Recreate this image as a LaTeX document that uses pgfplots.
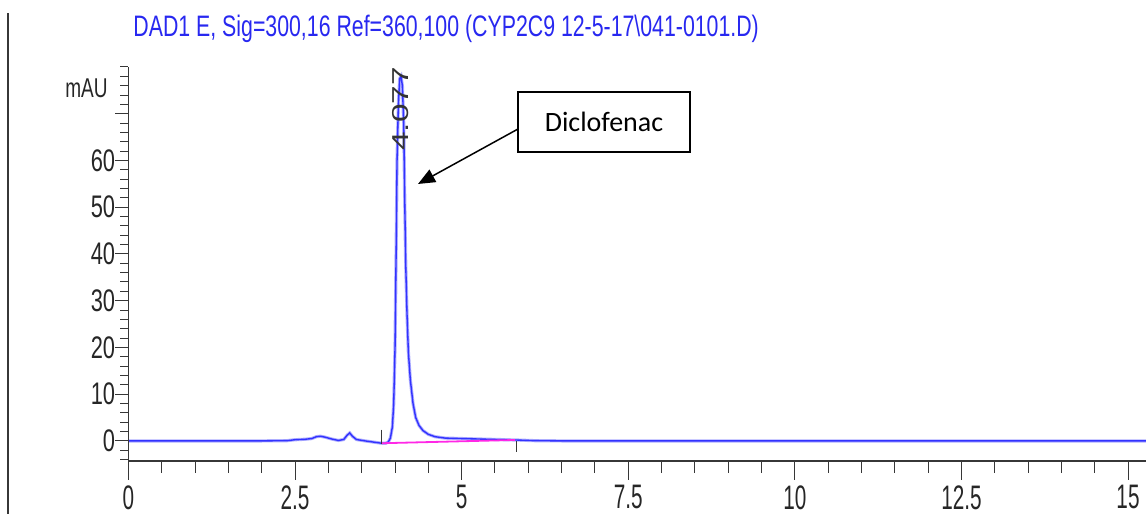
\documentclass[border=0pt]{standalone}
\usepackage{pgfplots}
\pgfplotsset{compat=1.18}
\usepackage{pgfplotstable}
\usepackage{fontspec}
\usetikzlibrary{arrows.meta}
\setmainfont{Liberation Sans}
\newfontfamily\ylabfont[FakeStretch=0.70]{Liberation Sans}
\newfontfamily\xlabfont[FakeStretch=0.61]{Liberation Sans}
\newfontfamily\ttlfont[FakeStretch=0.72]{Liberation Sans}
\newfontfamily\rotfont[FakeStretch=1.45]{Liberation Sans}
\newfontfamily\calfont{Carlito}
\definecolor{ttlblue}{RGB}{40,40,240}
\definecolor{trace}{RGB}{50,50,255}
\definecolor{halo}{RGB}{175,175,255}
\definecolor{axgray}{RGB}{55,55,55}
\definecolor{basemag}{RGB}{255,40,230}

\pgfplotstableread{
x y
0 0
1.0 0
2.0 0
2.38 0.05
2.5 0.25
2.65 0.35
2.75 0.5
2.82 0.9
2.88 1.0
2.95 0.8
3.05 0.4
3.15 0.1
3.23 0.3
3.28 1.2
3.32 1.7
3.36 1.0
3.42 0.3
3.55 0.0
3.7 -0.3
3.8 -0.5
3.86 -0.5
3.90 -0.2
3.93 0.6
3.96 3
3.98 8
4.00 20
4.02 45
4.03 60
4.05 72
4.07 77.5
4.09 78
4.11 76
4.13 68
4.145 52
4.16 38
4.18 27
4.20 19
4.23 13
4.27 8
4.31 5
4.36 3.3
4.42 2.2
4.50 1.4
4.60 0.9
4.75 0.6
5.0 0.5
5.4 0.35
5.8 0.2
6.1 0.05
6.5 0
8 0
10 0
12 0
14 0
15.27 0
}\tracedata

\begin{document}
\begin{tikzpicture}
\useasboundingbox (0,0) rectangle (573pt,257pt);
% left frame line
\draw[axgray, line width=0.75pt] (4pt,0) -- (4pt,250.5pt);
% title
\node[anchor=base west, inner sep=0pt, text=ttlblue,
      font=\ttlfont\fontsize{14.8pt}{16pt}\selectfont]
  at (66.5pt,238.5pt) {DAD1 E, Sig=300,16 Ref=360,100 (CYP2C9 12-5-17\textbackslash 041-0101.D)};

% x axis and data
\begin{axis}[
  at={(64.25pt,26.5pt)}, anchor=south west,
  scale only axis, width=508.75pt, height=197pt,
  xmin=0, xmax=15.27, ymin=-4.3, ymax=80,
  axis x line*=bottom, axis y line=none,
  x axis line style={-, axgray, line width=0.9pt},
  tick align=outside,
  major tick length=9.5pt, minor tick length=6pt,
  xtick={0,2.5,5,7.5,10,12.5,15},
  minor xtick={0,0.5,...,15},
  xtick style={axgray, line width=0.5pt},
  /pgf/number format/assume math mode=true,
  xticklabel style={font=\xlabfont\fontsize{17pt}{17pt}\selectfont,
    anchor=north, inner sep=0pt, text=black!85, yshift=-2.5pt},
  clip=true,
]
\addplot[halo, line width=1.6pt, no markers] table[x=x,y=y] {\tracedata};
\addplot[trace, line width=0.7pt, no markers] table[x=x,y=y] {\tracedata};
\addplot[basemag, line width=0.9pt, no markers] coordinates {(3.8,-0.5) (5.8,0.2)};
\draw[axgray, line width=0.6pt] (axis cs:3.8,2.4) -- (axis cs:3.8,-0.7);
\draw[axgray, line width=0.6pt] (axis cs:5.82,0) -- (axis cs:5.82,-2.4);
\end{axis}

% y axis
\begin{axis}[
  at={(64.25pt,26.5pt)}, anchor=south west,
  scale only axis, width=508.75pt, height=197pt,
  xmin=0, xmax=15.27, ymin=-4.3, ymax=80,
  axis y line*=left, axis x line=none,
  y axis line style={-, axgray, line width=0.9pt},
  tick align=outside,
  major tick length=6.5pt, minor tick length=4pt,
  ytick={0,10,20,30,40,50,60,70},
  yticklabels={0,10,20,30,40,50,60,{}},
  minor ytick={-4,-2,...,80},
  ytick style={axgray, line width=0.5pt},
  yticklabel style={font=\ylabfont\fontsize{15.6pt}{16pt}\selectfont,
    anchor=east, inner sep=0pt, text=black!85},
]
\end{axis}

% mAU unit label
\node[anchor=east, inner sep=0pt, text=black!85,
      font=\ylabfont\fontsize{13.6pt}{14pt}\selectfont] at (54pt,212.75pt) {mAU};

% retention time label
\node[rotate=90, inner sep=0pt, text=black!80,
      font=\rotfont\fontsize{11.5pt}{12pt}\selectfont] at (200.5pt,202.5pt) {4.077};

% annotation box and arrow
\draw[black, line width=0.75pt] (259pt,181pt) rectangle (345pt,211pt);
\node[font=\calfont\fontsize{14pt}{16pt}\selectfont] at (302pt,196pt) {Diclofenac};
\draw[black, line width=0.75pt, -{Triangle[length=8.5pt,width=7pt]}] (259pt,192.5pt) -- (209pt,165pt);
\end{tikzpicture}
\end{document}
